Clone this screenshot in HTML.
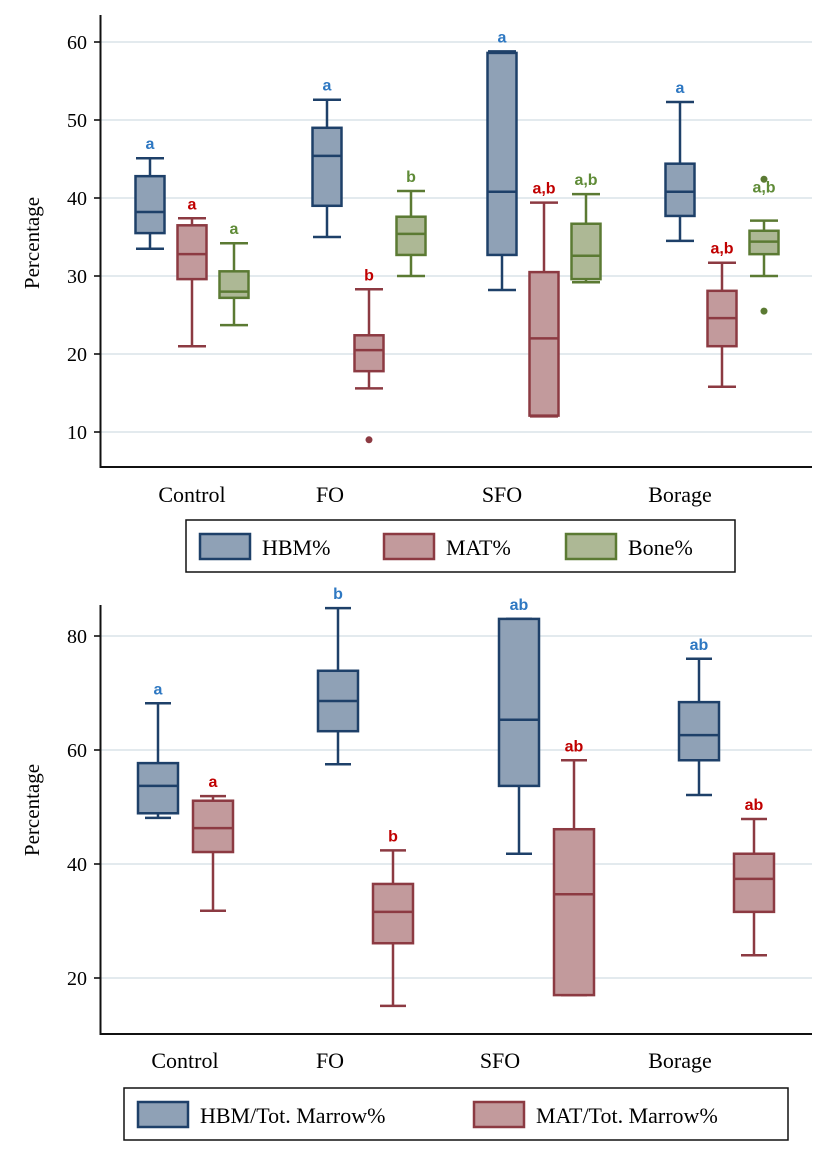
<!DOCTYPE html>
<html><head><meta charset="utf-8"><style>
body{margin:0;background:#fff;}
svg{display:block;font-family:"Liberation Serif",serif;}
.lt{font-family:"Liberation Sans","DejaVu Sans",sans-serif;font-weight:bold;font-size:16px;text-anchor:middle;}
</style></head><body>
<svg id="chart" width="833" height="1161"></svg>
<script>
// ---- Top chart data ----
const groupsTop = ["Control","FO","SFO","Borage"];
const seriesTop = ["HBM%","MAT%","Bone%"];
// [low, q1, median, q3, high]
const hbmTop = [[33.5,35.5,38.2,42.8,45.1],[35,39,45.4,49,52.6],[28.2,32.7,40.8,58.6,58.8],[34.5,37.7,40.8,44.4,52.3]];
const matTop = [[21,29.6,32.8,36.5,37.4],[15.6,17.8,20.5,22.4,28.3],[12.0,12.1,22.0,30.5,39.4],[15.8,21,24.6,28.1,31.7]];
const boneTop = [[23.7,27.2,28,30.6,34.2],[30,32.7,35.4,37.6,40.9],[29.2,29.6,32.6,36.7,40.5],[30,32.8,34.4,35.8,37.1]];
const outliersTop = [[],[[1,9]],[],[[2,42.4],[2,25.5]]]; // [seriesIndex, value]
const lettersTop = [["a","a","a"],["a","b","b"],["a","a,b","a,b"],["a","a,b","a,b"]];
const ticksTop = [10,20,30,40,50,60];
// ---- Bottom chart data ----
const groupsBot = ["Control","FO","SFO","Borage"];
const seriesBot = ["HBM/Tot. Marrow%","MAT/Tot. Marrow%"];
const hbmBot = [[48.1,48.9,53.7,57.7,68.2],[57.5,63.3,68.6,73.9,84.9],[41.8,53.7,65.3,83,83],[52.1,58.2,62.6,68.4,76]];
const matBot = [[31.8,42.1,46.3,51.1,51.9],[15.1,26.1,31.6,36.5,42.4],[17,17,34.7,46.1,58.2],[24,31.6,37.4,41.8,47.9]];
const lettersBot = [["a","a"],["b","b"],["ab","ab"],["ab","ab"]];
const ticksBot = [20,40,60,80];

const NS="http://www.w3.org/2000/svg";
const svg=document.getElementById('chart');
function mk(tag,attrs,parent){const e=document.createElementNS(NS,tag);for(const k in attrs)e.setAttribute(k,attrs[k]);(parent||svg).appendChild(e);return e;}
const fills=["#8fa1b6","#c29a9c","#adb895"];
const strokes=["#1e4069","#8c3a42","#5b7a33"];
const letterCol=["#2e78c2","#c00000","#5f8b37"];

function drawChart(cfg){
  const g=mk('g',{});
  
  
  const y=v=>cfg.y0+(cfg.v0-v)*cfg.k;
  cfg.ticks.forEach(t=>{
    const gl=mk('line',{x1:101,x2:812,y1:y(t),y2:y(t),stroke:"#e3eaee","stroke-width":2},g);
    
    
    const tk=mk('line',{x1:94,x2:100,y1:y(t),y2:y(t),stroke:"#000","stroke-width":1.5},g);
    
    
    const tl=mk('text',{x:87,y:y(t)+7,"text-anchor":"end","font-size":20},g);
    tl.textContent=t;
    
    
  });
  const ax=mk('path',{d:`M100.5 ${cfg.top} V${cfg.bot} H812`,fill:"none",stroke:"#111","stroke-width":2},g);
  
  
  const yt=mk('text',{x:0,y:0,"font-size":21,"text-anchor":"middle",transform:`translate(39,${cfg.ymid}) rotate(-90)`},g);
  yt.textContent="Percentage";
  
  
  cfg.groups.forEach((name,gi)=>{
    const cl=mk('text',{x:cfg.labelX[gi],y:cfg.labelY,"text-anchor":"middle","font-size":22},g);
    cl.textContent=name;
    
    
    cfg.series.forEach((s,si)=>{
      const d=s[gi];
      const cx=cfg.gx[gi]+si*cfg.step;
      const w=cfg.bw, hw=w/2, cw=cfg.cap;
      const bg=mk('g',{},g);
      
      
      const st={stroke:strokes[si],"stroke-width":2.5};
      mk('line',Object.assign({x1:cx,x2:cx,y1:y(d[4]),y2:y(d[3])},st),bg);
      mk('line',Object.assign({x1:cx,x2:cx,y1:y(d[1]),y2:y(d[0])},st),bg);
      mk('line',Object.assign({x1:cx-cw,x2:cx+cw,y1:y(d[4]),y2:y(d[4])},st),bg);
      mk('line',Object.assign({x1:cx-cw,x2:cx+cw,y1:y(d[0]),y2:y(d[0])},st),bg);
      mk('rect',Object.assign({x:cx-hw,y:y(d[3]),width:w,height:y(d[1])-y(d[3]),fill:fills[si]},st),bg);
      mk('line',Object.assign({x1:cx-hw,x2:cx+hw,y1:y(d[2]),y2:y(d[2])},st),bg);
      const lt=mk('text',{x:cx,y:y(d[4])-(cfg.lift[gi]&&cfg.lift[gi][si]||9),class:"lt",fill:letterCol[si]},g);
      lt.textContent=cfg.letters[gi][si];
      
      
    });
    (cfg.outliers[gi]||[]).forEach(o=>{
      const c=mk('circle',{cx:cfg.gx[gi]+o[0]*cfg.step,cy:y(o[1]),r:3.5,fill:strokes[o[0]]},g);
      
      
    });
  });
  // legend
  const lg=mk('g',{},g);
  
  
  mk('rect',{x:cfg.leg.x,y:cfg.leg.y,width:cfg.leg.w,height:52,fill:"#fff",stroke:"#111","stroke-width":1.5},lg);
  cfg.legNames.forEach((n,i)=>{
    const sx=cfg.leg.items[i];
    const e=mk('g',{},lg);
    
    
    mk('rect',{x:sx,y:cfg.leg.y+14,width:50,height:25,fill:fills[i],stroke:strokes[i],"stroke-width":2.5},e);
    const t=mk('text',{x:sx+62,y:cfg.leg.y+35,"font-size":22},e);
    t.textContent=n;
  });
}
drawChart({name:"top-chart",y0:42,v0:60,k:7.8,top:15,bot:467,ymid:243,ticks:ticksTop,groups:groupsTop,
  series:[hbmTop,matTop,boneTop],gx:[150,327,502,680],step:42,bw:29,cap:14,letters:lettersTop,outliers:outliersTop,
  lift:[null,null,null,[null,null,28]],
  labelX:[192,330,502,680],labelY:502,legNames:seriesTop,leg:{x:186,y:520,w:549,items:[200,384,566]}});
drawChart({name:"bottom-chart",y0:636,v0:80,k:5.7,top:605,bot:1034,ymid:810,ticks:ticksBot,groups:groupsBot,
  series:[hbmBot,matBot],gx:[158,338,519,699],step:55,bw:40,cap:13,letters:lettersBot,outliers:[],
  lift:[],labelX:[185,330,500,680],labelY:1068,legNames:seriesBot,leg:{x:124,y:1088,w:664,items:[138,474]}});
</script>
</body></html>
